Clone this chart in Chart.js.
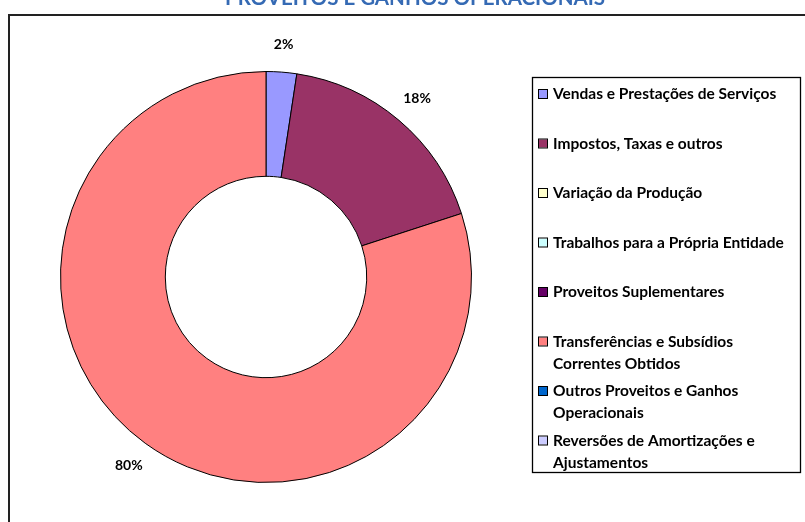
<!DOCTYPE html>
<html>
<head>
<meta charset="utf-8">
<script src="https://cdn.jsdelivr.net/npm/chart.js@4.4.0/dist/chart.umd.min.js"></script>
<style>
  html, body { margin: 0; padding: 0; background: #fff; }
  #wrap { position: relative; width: 805px; height: 522px; }
</style>
</head>
<body>
<div id="wrap"><canvas id="proveitosChart"></canvas></div>
<script>
// data
const chartTitle = 'PROVEITOS E GANHOS OPERACIONAIS';
const categories = [
    ['Vendas e Prestações de Serviços'],
    ['Impostos, Taxas e outros'],
    ['Variação da Produção'],
    ['Trabalhos para a Própria Entidade'],
    ['Proveitos Suplementares'],
    ['Transferências e Subsídios', 'Correntes Obtidos'],
    ['Outros Proveitos e Ganhos', 'Operacionais'],
    ['Reversões de Amortizações e', 'Ajustamentos']
];
const values = [2.4, 17.6, 0, 0, 0, 80.0, 0, 0];
const sliceColors = ['#9999FF', '#993366', '#FFFFCC', '#CCFFFF', '#660066', '#FF8080', '#0066CC', '#CCCCFF'];

const FONT = 'Lato, "Open Sans", sans-serif';

// frame + (cut off) title
const framePlugin = {
    id: 'frame',
    beforeDraw(chart) {
        const ctx = chart.ctx;
        ctx.save();
        ctx.fillStyle = '#fff';
        ctx.fillRect(0, 0, chart.width, chart.height);

        ctx.fillStyle = '#356AB4';
        ctx.font = 'bold 20.5px ' + FONT;
        ctx.textAlign = 'center';
        ctx.textBaseline = 'alphabetic';
        ctx.fillText(chartTitle, 415, 5);

        ctx.strokeStyle = '#222';
        ctx.lineWidth = 2;
        ctx.beginPath();
        ctx.moveTo(chart.width, 15);
        ctx.lineTo(9, 15);
        ctx.lineTo(9, chart.height);
        ctx.stroke();
        ctx.restore();
    }
};

// percentage labels outside the ring
const pctPlugin = {
    id: 'pctLabels',
    afterDatasetsDraw(chart) {
        const ctx = chart.ctx;
        const meta = chart.getDatasetMeta(0);
        const data = chart.data.datasets[0].data;
        const total = data.reduce((a, b) => a + b, 0);
        ctx.save();
        ctx.fillStyle = '#000';
        ctx.font = 'bold 14px ' + FONT;
        ctx.textAlign = 'center';
        ctx.textBaseline = 'middle';
        meta.data.forEach(function (arc, i) {
            if (!data[i]) return;
            const p = arc.getProps(['x', 'y', 'startAngle', 'endAngle', 'outerRadius'], true);
            const mid = (p.startAngle + p.endAngle) / 2;
            const r = p.outerRadius + 28;
            const txt = Math.round(data[i] / total * 100) + '%';
            ctx.fillText(txt, p.x + Math.cos(mid) * r, p.y + Math.sin(mid) * r);
        });
        ctx.restore();
    }
};

// boxed legend on the right
const legendPlugin = {
    id: 'boxLegend',
    afterDraw(chart) {
        const ctx = chart.ctx;
        const colors = chart.data.datasets[0].backgroundColor;
        ctx.save();
        ctx.strokeStyle = '#000';
        ctx.lineWidth = 1.3;
        ctx.strokeRect(532.5, 77.5, 268, 395);

        ctx.font = 'bold 15.5px ' + FONT;
        ctx.textAlign = 'left';
        ctx.textBaseline = 'middle';
        ctx.lineWidth = 1;
        chart.data.labels.forEach(function (lines, i) {
            const y = 94 + i * 49.5;
            ctx.fillStyle = colors[i];
            ctx.fillRect(539, y - 4, 8, 8);
            ctx.strokeStyle = '#000';
            ctx.strokeRect(538.5, y - 4.5, 9, 9);
            ctx.fillStyle = '#000';
            lines.forEach(function (ln, k) {
                ctx.fillText(ln, 553, y + k * 22);
            });
        });
        ctx.restore();
    }
};

const chart = new Chart(document.getElementById('proveitosChart'), {
    type: 'doughnut',
    data: {
        labels: categories,
        datasets: [{
            data: values,
            backgroundColor: sliceColors,
            borderColor: '#000',
            borderWidth: 1
        }]
    },
    options: {
        responsive: true,
        maintainAspectRatio: false,
        animation: false,
        cutout: '49%',
        layout: { padding: { left: 60, top: 71, right: 333, bottom: 39 } },
        plugins: {
            legend: { display: false },
            title: { display: false },
            tooltip: { enabled: false }
        }
    },
    plugins: [framePlugin, pctPlugin, legendPlugin]
});
</script>
</body>
</html>
